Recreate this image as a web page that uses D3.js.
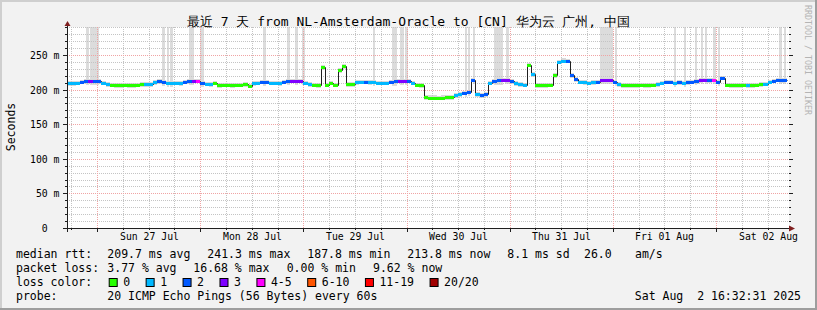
<!DOCTYPE html>
<html>
<head>
<meta charset="utf-8">
<script src="https://cdn.jsdelivr.net/npm/d3@7"></script>
<style>
  body { margin: 0; background: #f2f2f2; }
  svg text { font-family: 'DejaVu Sans Mono', monospace; white-space: pre; fill: #000; }
</style>
</head>
<body>
<script>
// hourly median rtt (ms), starting Sat 26 Jul 17:00
const medians = [
  209, 209, 209.5, 211, 212, 213, 212.5, 212, 210, 208,
  207, 206.5, 206.5, 207, 206.5, 206.5, 207, 207.5, 208, 208,
  210.5, 212, 211.5, 210, 209.5, 210, 209, 211.5, 212, 213,
  212.5, 210, 208.5, 207.5, 210, 206.5, 207, 207, 206.5, 207,
  207, 207.5, 205.5, 209, 210, 211, 211.5, 210, 209.5, 209,
  211, 212, 213, 213, 212.5, 209.5, 207.5, 207, 206.5, 232,
  207, 209.5, 207, 228, 234, 207.5, 208, 210.5, 211, 211.5,
  210.5, 211, 210, 209.5, 210, 211, 212, 213, 213, 212.5,
  209.5, 207, 206, 189, 188.5, 188.5, 188, 188.5, 189, 189,
  191.5, 193.5, 195.5, 197, 214, 193.5, 192, 193, 210, 212.5,
  213.5, 214, 213.5, 212, 209, 207.5, 207, 236, 222, 206.5,
  206, 206.5, 207, 221, 240.5, 242, 241.5, 221, 215, 211,
  210.5, 210, 210.5, 211, 213.5, 214.5, 214, 211, 208, 206.5,
  206.5, 206, 206.5, 207, 206.5, 206.5, 207, 208, 209.5, 211,
  211, 210, 210.5, 209.5, 210.5, 211, 212, 213.5, 214, 213.5,
  214, 211, 217, 207, 206.5, 206.5, 206, 207, 206.5, 206.5,
  207, 207.5, 208.5, 211, 212.5, 214, 213.5, 214
];

// loss colour class for each hour (index into lossLabels)
const lossClass = [
  1, 1, 1, 2, 2, 3, 2, 2, 1, 1,
  0, 0, 0, 0, 0, 0, 0, 0, 1, 1,
  1, 2, 2, 1, 1, 1, 1, 2, 2, 3,
  4, 2, 1, 1, 0, 0, 0, 0, 0, 0,
  0, 0, 0, 1, 1, 2, 2, 1, 1, 1,
  2, 2, 3, 3, 3, 1, 1, 0, 0, 0,
  0, 0, 0, 0, 0, 0, 0, 1, 1, 2,
  1, 1, 1, 1, 1, 2, 2, 3, 3, 2,
  1, 0, 0, 0, 0, 0, 0, 0, 0, 0,
  1, 1, 2, 2, 2, 1, 2, 2, 1, 2,
  2, 3, 3, 2, 1, 1, 1, 0, 1, 0,
  0, 0, 0, 0, 1, 1, 2, 2, 2, 1,
  1, 1, 1, 2, 3, 3, 3, 2, 1, 0,
  0, 0, 0, 0, 0, 0, 0, 1, 1, 2,
  2, 1, 2, 1, 2, 2, 2, 3, 3, 2,
  4, 2, 2, 0, 0, 0, 0, 0, 1, 0,
  0, 0, 1, 1, 2, 2, 2, 2
];

// periods (hours from start) where the smoke reaches the top of the graph
const smokeSpans = [
  [4.4, 5.1], [5.35, 7.45], [22.1, 22.8], [23.3, 23.5], [24.0, 24.7],
  [28.4, 29.6], [31.0, 31.9], [45.6, 46.3], [51.2, 51.9], [53.1, 53.8],
  [54.7, 55.4], [71.2, 71.5], [75.6, 76.8], [77.5, 78.4], [78.7, 79.4],
  [92.6, 93.1], [93.3, 93.8], [94.5, 94.7], [99.4, 101.5], [102.2, 102.9],
  [124.1, 127.1], [127.6, 128.0], [141.3, 141.8], [143.6, 144.1],
  [146.2, 146.6], [147.6, 148.0], [148.5, 149.0], [150.4, 151.1],
  [151.5, 152.0], [165.7, 166.4], [166.9, 167.3]
];

const lossLabels = ['0', '1', '2', '3', '4-5', '6-10', '11-19', '20/20'];
const lossColors = ['#26ff00', '#00b8ff', '#0059ff', '#7e00ff', '#ff00ff', '#ff5500', '#ff0000', '#a10000'];
const yTicks = [0, 50, 100, 150, 200, 250];

const rttStats = ['209.7 ms avg', '241.3 ms max', '187.8 ms min', '213.8 ms now', '8.1 ms sd', '26.0', 'am/s'];
const lossStats = ['3.77 % avg', '16.68 % max', '0.00 % min', '9.62 % now'];

const W = 817;
const H = 310;
const X0 = 67;
const X1 = 789;
const Y0 = 228;

const t0 = new Date(2025, 6, 26, 17, 0);
const tEnd = new Date(2025, 7, 2, 17, 0);
const tNow = new Date(2025, 7, 2, 16, 32);
const atHour = (h) => new Date(t0.getTime() + h * 3600e3);

const xScale = d3.scaleTime().domain([t0, tEnd]).rangeRound([X0, X1]);
const yScale = d3.scaleLinear().domain([0, 290.5]).rangeRound([Y0, 27]);
const yTop = yScale.range()[1];

const points = medians.map((m, i) => ({
  t: atHour(i),
  t1: i === medians.length - 1 ? tNow : atHour(i + 1),
  m: m,
  loss: lossClass[i],
}));
const linePts = points.concat([{ t: tNow, m: medians[medians.length - 1] }]);

const svg = d3.select('body').append('svg').attr('width', W).attr('height', H);

// background + 3d frame
svg.append('rect').attr('width', W).attr('height', H).attr('fill', '#f2f2f2');
svg.append('rect').attr('width', W).attr('height', 2).attr('fill', '#cfcfcf');
svg.append('rect').attr('width', 2).attr('height', H).attr('fill', '#cfcfcf');
svg.append('rect').attr('y', H - 2).attr('width', W).attr('height', 2).attr('fill', '#9e9e9e');
svg.append('rect').attr('x', W - 2).attr('width', 2).attr('height', H).attr('fill', '#9e9e9e');

svg
  .append('rect')
  .attr('x', X0)
  .attr('y', yTop)
  .attr('width', X1 - X0)
  .attr('height', Y0 - yTop)
  .attr('fill', '#fff');

// smoke
svg
  .append('g')
  .selectAll('rect')
  .data(smokeSpans)
  .enter()
  .append('rect')
  .attr('x', (d) => xScale(atHour(d[0])))
  .attr('width', (d) => Math.max(2, xScale(atHour(d[1])) - xScale(atHour(d[0]))))
  .attr('y', yTop)
  .attr('height', (d) => yScale(medians[Math.floor(d[0])] - 6) - yTop)
  .attr('fill', '#dcdcdc');

svg
  .append('path')
  .datum(linePts)
  .attr('fill', '#d8d8d8')
  .attr(
    'd',
    d3
      .area()
      .curve(d3.curveStepAfter)
      .x((d) => xScale(d.t))
      .y0((d) => yScale(d.m - 3.5))
      .y1((d) => yScale(d.m + 3))
  );

// grid
const minorY = d3.range(10, 291, 10).filter((v) => v % 50 !== 0);
const majorY = d3.range(50, 291, 50);
const sixHours = d3.timeHour.every(6).range(t0, tEnd).filter((d) => d.getHours() !== 0);
const midnights = d3.timeDay.range(atHour(1), tEnd);

function hGrid(vals, color) {
  svg
    .append('g')
    .attr('transform', 'translate(' + X0 + ',0)')
    .call(d3.axisRight(yScale).tickValues(vals).tickSize(X1 - X0).tickFormat(''))
    .call((g) => g.select('.domain').remove())
    .selectAll('line')
    .attr('stroke', color)
    .attr('stroke-dasharray', '1,1');
}
function vGrid(vals, color) {
  svg
    .append('g')
    .attr('transform', 'translate(0,' + yTop + ')')
    .call(d3.axisBottom(xScale).tickValues(vals).tickSize(Y0 - yTop).tickFormat(''))
    .call((g) => g.select('.domain').remove())
    .selectAll('line')
    .attr('stroke', color)
    .attr('stroke-dasharray', '1,1');
}
hGrid(minorY, '#c4c4c4');
vGrid(sixHours, '#c4c4c4');
hGrid(majorY, '#f0a4a4');
vGrid(midnights, '#f0a4a4');

// small ticks outside the canvas
function ticks(axis, tr, size) {
  svg
    .append('g')
    .attr('transform', tr)
    .call(axis.tickSize(size).tickFormat(''))
    .call((g) => g.select('.domain').remove())
    .selectAll('line')
    .attr('stroke', '#1f1f1f');
}
ticks(d3.axisLeft(yScale).tickValues(minorY), 'translate(' + X0 + ',0)', 2);
ticks(d3.axisLeft(yScale).tickValues(majorY), 'translate(' + X0 + ',0)', 4);
ticks(d3.axisRight(yScale).tickValues(minorY), 'translate(' + X1 + ',0)', 2);
ticks(d3.axisRight(yScale).tickValues(majorY), 'translate(' + X1 + ',0)', 4);
ticks(d3.axisBottom(xScale).tickValues(sixHours), 'translate(0,' + Y0 + ')', 2);
ticks(d3.axisBottom(xScale).tickValues(midnights), 'translate(0,' + Y0 + ')', 4);

// median line + loss colours
svg
  .append('path')
  .datum(linePts)
  .attr('fill', 'none')
  .attr('stroke', '#202020')
  .attr('stroke-width', 1)
  .attr('transform', 'translate(0.5,0.5)')
  .attr(
    'd',
    d3
      .line()
      .curve(d3.curveStepAfter)
      .x((d) => xScale(d.t))
      .y((d) => yScale(d.m))
  );

svg
  .append('g')
  .selectAll('rect')
  .data(points)
  .enter()
  .append('rect')
  .attr('x', (d) => xScale(d.t))
  .attr('width', (d) => xScale(d.t1) - xScale(d.t))
  .attr('y', (d) => yScale(d.m) - 1)
  .attr('height', 3)
  .attr('fill', (d) => lossColors[d.loss]);

// axes lines + arrows
svg
  .append('line')
  .attr('x1', X0 - 4)
  .attr('x2', X1 + 1)
  .attr('y1', Y0 + 0.5)
  .attr('y2', Y0 + 0.5)
  .attr('stroke', '#1f1f1f');
svg
  .append('line')
  .attr('x1', X0 + 0.5)
  .attr('x2', X0 + 0.5)
  .attr('y1', Y0 + 4)
  .attr('y2', yTop - 1)
  .attr('stroke', '#1f1f1f');
svg
  .append('path')
  .attr('d', 'M' + X1 + ',' + (Y0 - 2.5) + 'L' + (X1 + 6) + ',' + (Y0 + 0.5) + 'L' + X1 + ',' + (Y0 + 3.5) + 'Z')
  .attr('fill', '#802020');
svg
  .append('path')
  .attr('d', 'M' + (X0 - 2.5) + ',' + (yTop - 1) + 'L' + (X0 + 0.5) + ',' + (yTop - 6) + 'L' + (X0 + 3.5) + ',' + (yTop - 1) + 'Z')
  .attr('fill', '#802020');

// axis labels
svg
  .append('g')
  .attr('transform', 'translate(' + X0 + ',0)')
  .call(
    d3
      .axisLeft(yScale)
      .tickValues(yTicks)
      .tickSize(0)
      .tickPadding(7.5)
      .tickFormat((v) => (v === 0 ? '0  ' : v + ' m'))
  )
  .call((g) => g.select('.domain').remove())
  .selectAll('text')
  .attr('xml:space', 'preserve')
  .style('font-family', "'DejaVu Sans Mono', monospace")
  .style('font-size', '9.8px')
  .attr('fill', '#000');

const noons = d3.timeDay.range(atHour(1), tEnd).map((d) => d3.timeHour.offset(d, 12));
svg
  .append('g')
  .attr('transform', 'translate(0,' + Y0 + ')')
  .call(d3.axisBottom(xScale).tickValues(noons).tickSize(0).tickPadding(5.5).tickFormat(d3.timeFormat('%a %d %b')))
  .call((g) => g.select('.domain').remove())
  .selectAll('text')
  .style('font-family', "'DejaVu Sans Mono', monospace")
  .style('font-size', '9.8px')
  .attr('fill', '#000');

// title, unit, watermark
svg
  .append('text')
  .attr('x', 408.5)
  .attr('y', 25.5)
  .attr('text-anchor', 'middle')
  .style('font-size', '13px')
  .text('最近 7 天 from NL-Amsterdam-Oracle to [CN] 华为云 广州, 中国');

svg
  .append('text')
  .attr('transform', 'translate(15,127) rotate(-90)')
  .attr('text-anchor', 'middle')
  .style('font-size', '11.5px')
  .text('Seconds');

svg
  .append('text')
  .attr('transform', 'translate(805,5) rotate(90)')
  .style('font-size', '8.3px')
  .style('fill', '#b4b4b4')
  .text('RRDTOOL / TOBI OETIKER');

// legend
const lg = svg.append('g').style('font-size', '11.5px');
function put(x, y, s) {
  lg.append('text').attr('x', x).attr('y', y).attr('xml:space', 'preserve').text(s);
}
put(16, 258, 'median rtt:');
[107.3, 207.3, 307.3, 407.3, 507.3, 584, 635].forEach((x, i) => put(x, 258, rttStats[i]));
put(16, 272, 'packet loss:');
[107.3, 193.3, 286.7, 373].forEach((x, i) => put(x, 272, lossStats[i]));
put(16, 286, 'loss color:');

let bx = 108.7;
lossLabels.forEach((lab, i) => {
  lg.append('rect')
    .attr('x', bx + 0.5)
    .attr('y', 278.5)
    .attr('width', 8)
    .attr('height', 8)
    .attr('fill', lossColors[i])
    .attr('stroke', '#000');
  put(bx + 14.5, 286, lab);
  bx += 14.5 + lab.length * 6.93 + 15.5;
});

put(16, 300, 'probe:');
put(107.3, 300, '20 ICMP Echo Pings (56 Bytes) every 60s');
lg.append('text')
  .attr('x', 801)
  .attr('y', 300)
  .attr('text-anchor', 'end')
  .attr('xml:space', 'preserve')
  .text('Sat Aug  2 16:32:31 2025');
</script>
</body>
</html>
